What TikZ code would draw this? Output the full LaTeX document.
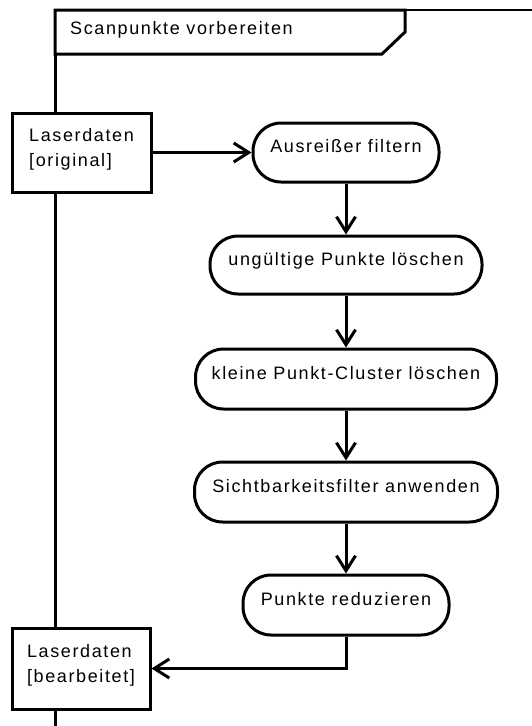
\documentclass[tikz,border=0pt]{standalone}
\usepackage{fontspec}
\setmainfont{Liberation Sans}[LetterSpace=9]
\usetikzlibrary{arrows.meta}
\tikzset{
  px/.style={x=1pt,y=-1pt},
  stroke/.style={line width=3pt,draw=black},
  labelfont/.style={font=\fontsize{18}{25}\selectfont},
  action/.style={stroke,fill=white,rounded corners=28pt,inner sep=0pt,
    text height=13pt,text depth=13pt,labelfont},
  pin/.style={stroke,fill=white,inner sep=0pt,align=left,labelfont},
  flow/.style={stroke,-{Straight Barb[length=15pt,width=19pt,line width=3pt]}},
}
\newcommand{\pinstrut}{\rule[-10pt]{0pt}{10pt}}
\begin{document}
\begin{tikzpicture}[px]
\useasboundingbox (0,0) rectangle (532,726);
\fill[white] (0,0) rectangle (532,726);

% activity frame: left border and top border
\coordinate (frameTL) at (55,10);
\coordinate (frameTR) at (532,10);
\coordinate (frameBL) at (55,726);
\draw[line width=2pt] (405,10) -- (frameTR);
\draw[stroke] (frameTL) -- (frameBL);

% frame heading with cut corner
\draw[stroke,fill=white,line join=miter] (frameTL) -- (405,10) -- (405,32) -- (382,54) -- (55,54) -- cycle;
\node[anchor=base west,inner sep=0pt,labelfont] (title) at (70,34) {Scanpunkte vorbereiten};

% object pins on the frame border
\node[pin,minimum width=139pt,minimum height=79pt] (pinIn) at (81.5,152.5) {Laserdaten\\{[original]}\pinstrut};
\node[pin,minimum width=138pt,minimum height=81pt] (pinOut) at (81,668.5) {Laserdaten\\{[bearbeitet]}\pinstrut};

% actions
\node[action,minimum width=186pt,minimum height=59pt] (a1) at (346,152.5) {Ausreißer filtern};
\node[action,minimum width=272pt,minimum height=58pt] (a2) at (346,265) {ungültige Punkte löschen};
\node[action,minimum width=301pt,minimum height=60pt] (a3) at (346,379) {kleine Punkt-Cluster löschen};
\node[action,minimum width=303pt,minimum height=60pt] (a4) at (346,492) {Sichtbarkeitsfilter anwenden};
\node[action,minimum width=206pt,minimum height=60pt] (a5) at (346,605) {Punkte reduzieren};

% control and object flows
\draw[flow] (pinIn.east) -- (a1.west);
\draw[flow] (a1.south) -- (a2.north);
\draw[flow] (a2.south) -- (a3.north);
\draw[flow] (a3.south) -- (a4.north);
\draw[flow] (a4.south) -- (a5.north);
\draw[flow,line join=miter] (a5.south) |- (pinOut.east);
\end{tikzpicture}
\end{document}
